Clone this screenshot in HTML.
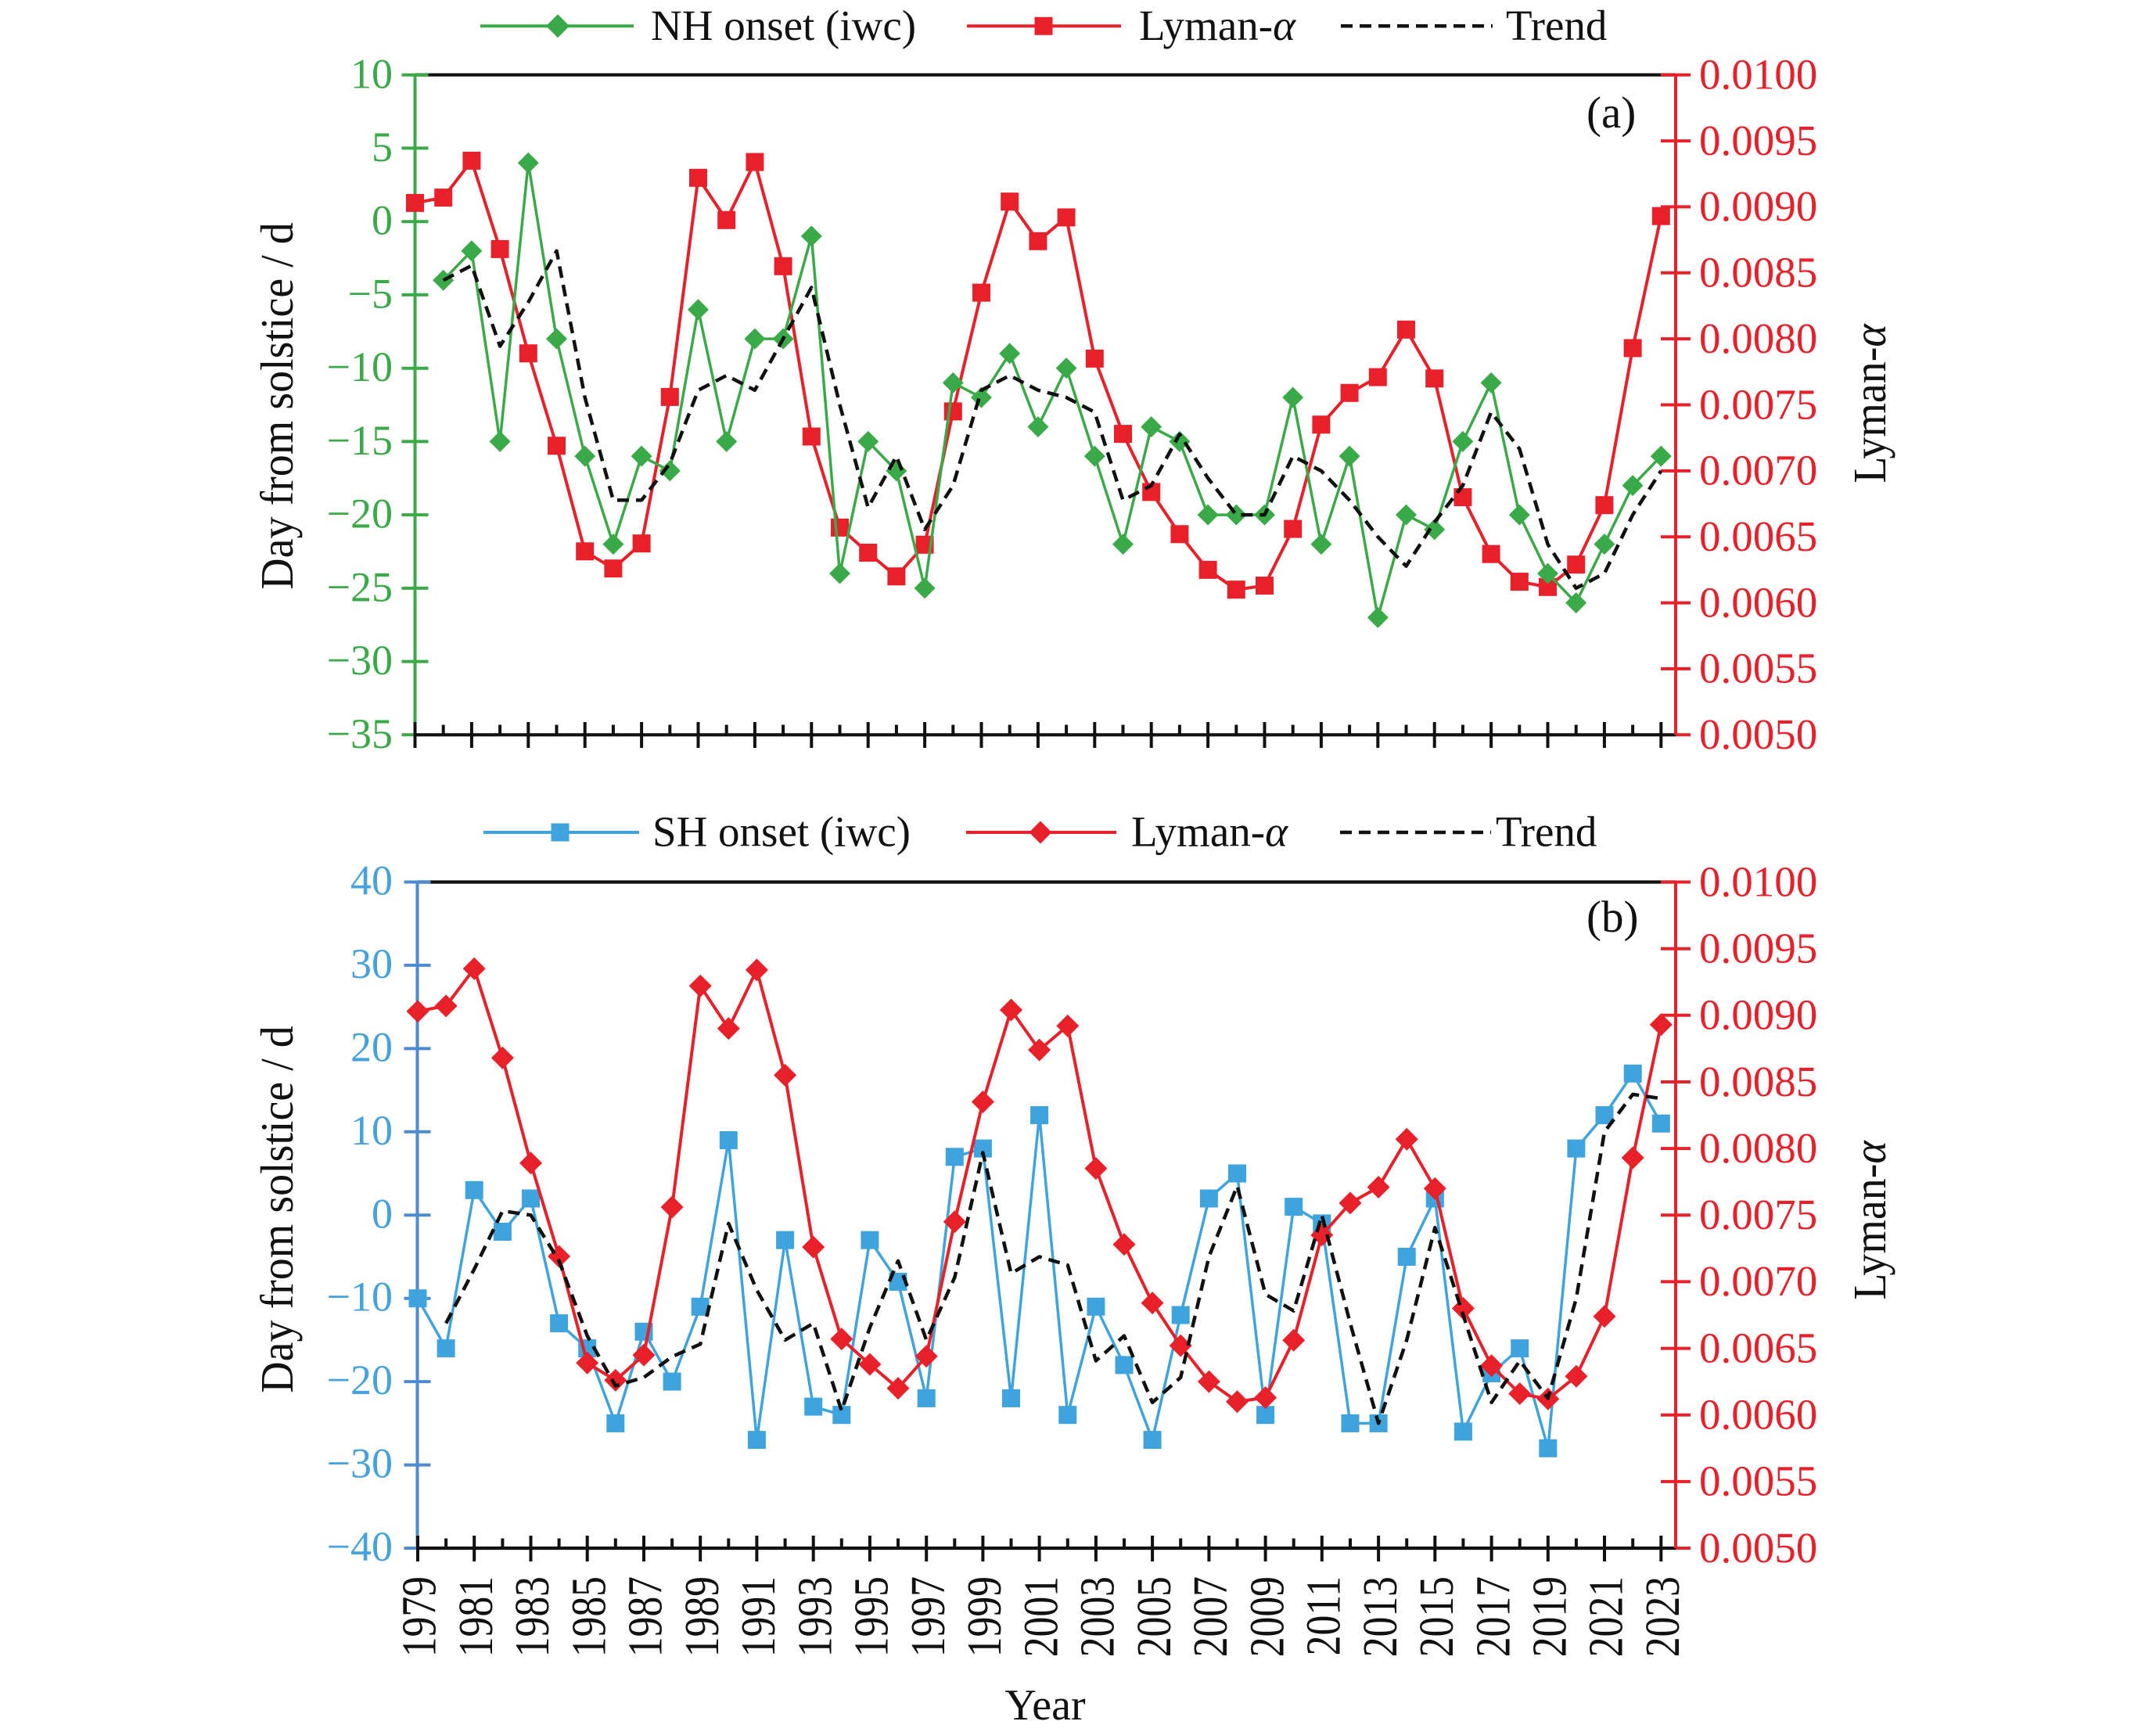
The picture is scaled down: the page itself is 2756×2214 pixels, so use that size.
<!DOCTYPE html>
<html>
<head>
<meta charset="utf-8">
<style>
html,body{margin:0;padding:0;background:#fff;}
svg{display:block;}
text{font-family:"Liberation Serif","Times New Roman",serif;}
</style>
</head>
<body>
<svg xmlns="http://www.w3.org/2000/svg" width="2756" height="2214" viewBox="0 0 2756 2214">
<defs>
  <path id="dg" d="M0,-13.5 L13.5,0 L0,13.5 L-13.5,0Z" fill="#3aaa48"/>
  <path id="dgL" d="M0,-15 L15,0 L0,15 L-15,0Z" fill="#3aaa48"/>
  <rect id="sqR" x="-11.5" y="-11.5" width="23" height="23" fill="#e8202a"/>
  <path id="dR" d="M0,-14.5 L14.5,0 L0,14.5 L-14.5,0Z" fill="#e8202a"/>
  <rect id="sqB" x="-11.5" y="-11.5" width="23" height="23" fill="#3fa3dd"/>
</defs>
<rect width="2756" height="2214" fill="#fff"/>

<!-- ================= PANEL A ================= -->
<!-- Legend A -->
<line x1="614" y1="33.3" x2="810" y2="33.3" stroke="#3aaa48" stroke-width="4"/>
<use href="#dgL" x="713" y="33.3"/>
<text x="832" y="51" font-size="55" fill="#111">NH onset (iwc)</text>
<line x1="1236" y1="33.3" x2="1433" y2="33.3" stroke="#e8202a" stroke-width="4"/>
<use href="#sqR" x="1334" y="33.3"/>
<text x="1456" y="51" font-size="55" fill="#111">Lyman-<tspan font-style="italic">α</tspan></text>
<line x1="1714" y1="33.3" x2="1908" y2="33.3" stroke="#111" stroke-width="4.5" stroke-dasharray="15 9"/>
<text x="1925" y="51" font-size="55" fill="#111">Trend</text>

<!-- frame A -->
<line x1="530.5" y1="95.7" x2="2142" y2="95.7" stroke="#111" stroke-width="4.2"/>
<line x1="530.5" y1="939.3" x2="2142" y2="939.3" stroke="#111" stroke-width="4.2"/>
<line x1="530.5" y1="95.7" x2="530.5" y2="939.3" stroke="#3aaa48" stroke-width="4"/>
<line x1="2142" y1="95.7" x2="2142" y2="939.3" stroke="#e8202a" stroke-width="4"/>
<!-- left ticks A -->
<path d="M513.5,95.7H547.5M513.5,189.4H547.5M513.5,283.2H547.5M513.5,376.9H547.5M513.5,470.7H547.5M513.5,564.4H547.5M513.5,658.1H547.5M513.5,751.9H547.5M513.5,845.6H547.5M513.5,939.3H530.5" stroke="#3aaa48" stroke-width="4"/>
<!-- right ticks A -->
<path d="M2123,95.7H2161M2123,180.1H2161M2123,264.4H2161M2123,348.8H2161M2123,433.1H2161M2123,517.5H2161M2123,601.9H2161M2123,686.2H2161M2123,770.6H2161M2123,854.9H2161M2142,939.3H2161" stroke="#e8202a" stroke-width="4"/>
<!-- bottom ticks A -->
<path d="M530.5,923V956M602.9,923V956M675.3,923V956M747.7,923V956M820.1,923V956M892.5,923V956M964.9,923V956M1037.3,923V956M1109.7,923V956M1182.1,923V956M1254.5,923V956M1326.9,923V956M1399.3,923V956M1471.7,923V956M1544.1,923V956M1616.5,923V956M1688.9,923V956M1761.3,923V956M1833.7,923V956M1906.1,923V956M1978.5,923V956M2050.9,923V956M2123.3,923V956" stroke="#111" stroke-width="4"/>
<path d="M566.7,926.5V939M639.1,926.5V939M711.5,926.5V939M783.9,926.5V939M856.3,926.5V939M928.7,926.5V939M1001.1,926.5V939M1073.5,926.5V939M1145.9,926.5V939M1218.3,926.5V939M1290.7,926.5V939M1363.1,926.5V939M1435.5,926.5V939M1507.9,926.5V939M1580.3,926.5V939M1652.7,926.5V939M1725.1,926.5V939M1797.5,926.5V939M1869.9,926.5V939M1942.3,926.5V939M2014.7,926.5V939M2087.1,926.5V939" stroke="#111" stroke-width="4"/>

<!-- left labels A -->
<g font-size="54" fill="#3aaa48" text-anchor="end">
<text x="502" y="112.5">10</text>
<text x="502" y="206">5</text>
<text x="502" y="299.7">0</text>
<text x="502" y="393.4">−5</text>
<text x="502" y="487.2">−10</text>
<text x="502" y="580.9">−15</text>
<text x="502" y="674.6">−20</text>
<text x="502" y="768.4">−25</text>
<text x="502" y="862.1">−30</text>
<text x="502" y="955.8">−35</text>
</g>
<!-- right labels A -->
<g font-size="55" fill="#e8202a">
<text x="2172" y="113.5">0.0100</text>
<text x="2172" y="197.9">0.0095</text>
<text x="2172" y="282.2">0.0090</text>
<text x="2172" y="366.6">0.0085</text>
<text x="2172" y="450.9">0.0080</text>
<text x="2172" y="535.3">0.0075</text>
<text x="2172" y="619.7">0.0070</text>
<text x="2172" y="704">0.0065</text>
<text x="2172" y="788.4">0.0060</text>
<text x="2172" y="872.7">0.0055</text>
<text x="2172" y="957.1">0.0050</text>
</g>
<text x="2028" y="163" font-size="57" fill="#111">(a)</text>
<text transform="translate(374,519) rotate(-90) scale(1,1.05)" text-anchor="middle" font-size="56" fill="#111">Day from solstice / d</text>
<text transform="translate(2410,516) rotate(-90) scale(1,1.05)" text-anchor="middle" font-size="56" fill="#111">Lyman-<tspan font-style="italic">α</tspan></text>

<!-- series A: Lyman -->
<polyline fill="none" stroke="#e8202a" stroke-width="4" stroke-linejoin="round" points="530.5,259.4 566.7,252.6 602.9,205.4 639.1,318.4 675.3,451.7 711.5,569.8 747.7,704.8 783.9,726.7 820.1,694.7 856.3,507.4 892.5,227.3 928.7,281.3 964.9,207.1 1001.1,340.3 1037.3,558.0 1073.5,674.4 1109.7,706.5 1145.9,736.8 1182.1,696.3 1218.3,525.9 1254.5,374.1 1290.7,257.7 1326.9,308.3 1363.1,277.9 1399.3,458.4 1435.5,554.6 1471.7,628.9 1507.9,682.8 1544.1,728.4 1580.3,753.7 1616.5,748.6 1652.7,676.1 1688.9,542.8 1725.1,502.3 1761.3,482.1 1797.5,421.3 1833.7,483.8 1869.9,635.6 1906.1,708.2 1942.3,743.6 1978.5,750.3 2014.7,721.7 2050.9,645.7 2087.1,445.0 2123.3,276.2"/>
<g>
<use href="#sqR" x="530.5" y="259.4"/><use href="#sqR" x="566.7" y="252.6"/><use href="#sqR" x="602.9" y="205.4"/><use href="#sqR" x="639.1" y="318.4"/><use href="#sqR" x="675.3" y="451.7"/><use href="#sqR" x="711.5" y="569.8"/><use href="#sqR" x="747.7" y="704.8"/><use href="#sqR" x="783.9" y="726.7"/><use href="#sqR" x="820.1" y="694.7"/><use href="#sqR" x="856.3" y="507.4"/><use href="#sqR" x="892.5" y="227.3"/><use href="#sqR" x="928.7" y="281.3"/><use href="#sqR" x="964.9" y="207.1"/><use href="#sqR" x="1001.1" y="340.3"/><use href="#sqR" x="1037.3" y="558.0"/><use href="#sqR" x="1073.5" y="674.4"/><use href="#sqR" x="1109.7" y="706.5"/><use href="#sqR" x="1145.9" y="736.8"/><use href="#sqR" x="1182.1" y="696.3"/><use href="#sqR" x="1218.3" y="525.9"/><use href="#sqR" x="1254.5" y="374.1"/><use href="#sqR" x="1290.7" y="257.7"/><use href="#sqR" x="1326.9" y="308.3"/><use href="#sqR" x="1363.1" y="277.9"/><use href="#sqR" x="1399.3" y="458.4"/><use href="#sqR" x="1435.5" y="554.6"/><use href="#sqR" x="1471.7" y="628.9"/><use href="#sqR" x="1507.9" y="682.8"/><use href="#sqR" x="1544.1" y="728.4"/><use href="#sqR" x="1580.3" y="753.7"/><use href="#sqR" x="1616.5" y="748.6"/><use href="#sqR" x="1652.7" y="676.1"/><use href="#sqR" x="1688.9" y="542.8"/><use href="#sqR" x="1725.1" y="502.3"/><use href="#sqR" x="1761.3" y="482.1"/><use href="#sqR" x="1797.5" y="421.3"/><use href="#sqR" x="1833.7" y="483.8"/><use href="#sqR" x="1869.9" y="635.6"/><use href="#sqR" x="1906.1" y="708.2"/><use href="#sqR" x="1942.3" y="743.6"/><use href="#sqR" x="1978.5" y="750.3"/><use href="#sqR" x="2014.7" y="721.7"/><use href="#sqR" x="2050.9" y="645.7"/><use href="#sqR" x="2087.1" y="445.0"/><use href="#sqR" x="2123.3" y="276.2"/>
</g>

<!-- series A: NH onset -->
<polyline fill="none" stroke="#3aaa48" stroke-width="3.5" stroke-linejoin="round" points="566.7,358.2 602.9,320.7 639.1,564.4 675.3,208.2 711.5,433.1 747.7,583.1 783.9,695.6 820.1,583.1 856.3,601.9 892.5,395.7 928.7,564.4 964.9,433.1 1001.1,433.1 1037.3,301.9 1073.5,733.1 1109.7,564.4 1145.9,601.9 1182.1,751.9 1218.3,489.4 1254.5,508.1 1290.7,451.9 1326.9,545.6 1363.1,470.6 1399.3,583.1 1435.5,695.6 1471.7,545.6 1507.9,564.4 1544.1,658.1 1580.3,658.1 1616.5,658.1 1652.7,508.1 1688.9,695.6 1725.1,583.1 1761.3,789.4 1797.5,658.1 1833.7,676.9 1869.9,564.4 1906.1,489.4 1942.3,658.1 1978.5,733.1 2014.7,770.6 2050.9,695.6 2087.1,620.6 2123.3,583.1"/>
<g>
<use href="#dg" x="566.7" y="358.2"/><use href="#dg" x="602.9" y="320.7"/><use href="#dg" x="639.1" y="564.4"/><use href="#dg" x="675.3" y="208.2"/><use href="#dg" x="711.5" y="433.1"/><use href="#dg" x="747.7" y="583.1"/><use href="#dg" x="783.9" y="695.6"/><use href="#dg" x="820.1" y="583.1"/><use href="#dg" x="856.3" y="601.9"/><use href="#dg" x="892.5" y="395.7"/><use href="#dg" x="928.7" y="564.4"/><use href="#dg" x="964.9" y="433.1"/><use href="#dg" x="1001.1" y="433.1"/><use href="#dg" x="1037.3" y="301.9"/><use href="#dg" x="1073.5" y="733.1"/><use href="#dg" x="1109.7" y="564.4"/><use href="#dg" x="1145.9" y="601.9"/><use href="#dg" x="1182.1" y="751.9"/><use href="#dg" x="1218.3" y="489.4"/><use href="#dg" x="1254.5" y="508.1"/><use href="#dg" x="1290.7" y="451.9"/><use href="#dg" x="1326.9" y="545.6"/><use href="#dg" x="1363.1" y="470.6"/><use href="#dg" x="1399.3" y="583.1"/><use href="#dg" x="1435.5" y="695.6"/><use href="#dg" x="1471.7" y="545.6"/><use href="#dg" x="1507.9" y="564.4"/><use href="#dg" x="1544.1" y="658.1"/><use href="#dg" x="1580.3" y="658.1"/><use href="#dg" x="1616.5" y="658.1"/><use href="#dg" x="1652.7" y="508.1"/><use href="#dg" x="1688.9" y="695.6"/><use href="#dg" x="1725.1" y="583.1"/><use href="#dg" x="1761.3" y="789.4"/><use href="#dg" x="1797.5" y="658.1"/><use href="#dg" x="1833.7" y="676.9"/><use href="#dg" x="1869.9" y="564.4"/><use href="#dg" x="1906.1" y="489.4"/><use href="#dg" x="1942.3" y="658.1"/><use href="#dg" x="1978.5" y="733.1"/><use href="#dg" x="2014.7" y="770.6"/><use href="#dg" x="2050.9" y="695.6"/><use href="#dg" x="2087.1" y="620.6"/><use href="#dg" x="2123.3" y="583.1"/>
</g>

<!-- trend A -->
<polyline fill="none" stroke="#111" stroke-width="4.5" stroke-dasharray="15 9" stroke-linejoin="round" points="566.7,358.2 602.9,339.4 639.1,442.5 675.3,386.3 711.5,320.7 747.7,508.1 783.9,639.4 820.1,639.4 856.3,592.5 892.5,498.8 928.7,480.0 964.9,498.8 1001.1,433.1 1037.3,367.5 1073.5,517.5 1109.7,648.7 1145.9,583.1 1182.1,676.9 1218.3,620.6 1254.5,498.8 1290.7,480.0 1326.9,498.8 1363.1,508.1 1399.3,526.9 1435.5,639.4 1471.7,620.6 1507.9,555.0 1544.1,611.2 1580.3,658.1 1616.5,658.1 1652.7,583.1 1688.9,601.9 1725.1,639.4 1761.3,686.2 1797.5,723.7 1833.7,667.5 1869.9,620.6 1906.1,526.9 1942.3,573.7 1978.5,695.6 2014.7,751.9 2050.9,733.1 2087.1,658.1 2123.3,601.9"/>

<!-- ================= PANEL B ================= -->
<!-- Legend B -->
<line x1="618" y1="1064" x2="817" y2="1064" stroke="#3fa3dd" stroke-width="4"/>
<use href="#sqB" x="716" y="1064"/>
<text x="834" y="1081.5" font-size="55" fill="#111">SH onset (iwc)</text>
<line x1="1235" y1="1064" x2="1427" y2="1064" stroke="#e8202a" stroke-width="4"/>
<use href="#dR" x="1330" y="1064"/>
<text x="1446" y="1081.5" font-size="55" fill="#111">Lyman-<tspan font-style="italic">α</tspan></text>
<line x1="1713" y1="1064" x2="1906" y2="1064" stroke="#111" stroke-width="4.5" stroke-dasharray="15 9"/>
<text x="1912" y="1081.5" font-size="55" fill="#111">Trend</text>

<!-- frame B -->
<line x1="533.5" y1="1127.5" x2="2142" y2="1127.5" stroke="#111" stroke-width="4.2"/>
<line x1="533.5" y1="1979" x2="2142" y2="1979" stroke="#111" stroke-width="4.2"/>
<line x1="533.5" y1="1127.5" x2="533.5" y2="1979" stroke="#4e8ad0" stroke-width="4"/>
<line x1="2142" y1="1127.5" x2="2142" y2="1979" stroke="#e8202a" stroke-width="4"/>
<path d="M516.5,1127.5H550.5M516.5,1233.9H550.5M516.5,1340.4H550.5M516.5,1446.8H550.5M516.5,1553.3H550.5M516.5,1659.7H550.5M516.5,1766.1H550.5M516.5,1872.6H550.5M516.5,1979H533.5" stroke="#4e8ad0" stroke-width="4"/>
<path d="M2123,1127.5H2161M2123,1212.7H2161M2123,1297.8H2161M2123,1383H2161M2123,1468.1H2161M2123,1553.3H2161M2123,1638.4H2161M2123,1723.6H2161M2123,1808.7H2161M2123,1893.9H2161M2142,1979H2161" stroke="#e8202a" stroke-width="4"/>
<path d="M534,1963V1996M606.2,1963V1996M678.5,1963V1996M750.7,1963V1996M823,1963V1996M895.2,1963V1996M967.4,1963V1996M1039.7,1963V1996M1111.9,1963V1996M1184.2,1963V1996M1256.4,1963V1996M1328.6,1963V1996M1400.9,1963V1996M1473.1,1963V1996M1545.4,1963V1996M1617.6,1963V1996M1689.8,1963V1996M1762.1,1963V1996M1834.3,1963V1996M1906.6,1963V1996M1978.8,1963V1996M2051,1963V1996M2123.3,1963V1996" stroke="#111" stroke-width="4"/>
<path d="M570.1,1966.5V1979M642.4,1966.5V1979M714.6,1966.5V1979M786.8,1966.5V1979M859.1,1966.5V1979M931.3,1966.5V1979M1003.6,1966.5V1979M1075.8,1966.5V1979M1148,1966.5V1979M1220.3,1966.5V1979M1292.5,1966.5V1979M1364.8,1966.5V1979M1437,1966.5V1979M1509.2,1966.5V1979M1581.5,1966.5V1979M1653.7,1966.5V1979M1726,1966.5V1979M1798.2,1966.5V1979M1870.4,1966.5V1979M1942.7,1966.5V1979M2014.9,1966.5V1979M2087.2,1966.5V1979" stroke="#111" stroke-width="4"/>

<g font-size="54" fill="#45a2dc" text-anchor="end">
<text x="502" y="1143.5">40</text>
<text x="502" y="1249.9">30</text>
<text x="502" y="1356.4">20</text>
<text x="502" y="1462.8">10</text>
<text x="502" y="1569.3">0</text>
<text x="502" y="1675.7">−10</text>
<text x="502" y="1782.1">−20</text>
<text x="502" y="1888.6">−30</text>
<text x="502" y="1995">−40</text>
</g>
<g font-size="55" fill="#e8202a">
<text x="2172" y="1145.3">0.0100</text>
<text x="2172" y="1230.5">0.0095</text>
<text x="2172" y="1315.6">0.0090</text>
<text x="2172" y="1400.8">0.0085</text>
<text x="2172" y="1485.9">0.0080</text>
<text x="2172" y="1571.1">0.0075</text>
<text x="2172" y="1656.2">0.0070</text>
<text x="2172" y="1741.4">0.0065</text>
<text x="2172" y="1826.5">0.0060</text>
<text x="2172" y="1911.7">0.0055</text>
<text x="2172" y="1996.8">0.0050</text>
</g>
<text x="2028" y="1191" font-size="57" fill="#111">(b)</text>
<text transform="translate(374,1546) rotate(-90) scale(1,1.05)" text-anchor="middle" font-size="56" fill="#111">Day from solstice / d</text>
<text transform="translate(2410,1560) rotate(-90) scale(1,1.05)" text-anchor="middle" font-size="56" fill="#111">Lyman-<tspan font-style="italic">α</tspan></text>

<!-- year labels -->
<g font-size="62" fill="#111" text-anchor="end">
<text transform="translate(556.7,2015) rotate(-90) scale(0.833,1)">1979</text>
<text transform="translate(628.9,2015) rotate(-90) scale(0.833,1)">1981</text>
<text transform="translate(701.2,2015) rotate(-90) scale(0.833,1)">1983</text>
<text transform="translate(773.4,2015) rotate(-90) scale(0.833,1)">1985</text>
<text transform="translate(845.7,2015) rotate(-90) scale(0.833,1)">1987</text>
<text transform="translate(917.9,2015) rotate(-90) scale(0.833,1)">1989</text>
<text transform="translate(990.1,2015) rotate(-90) scale(0.833,1)">1991</text>
<text transform="translate(1062.4,2015) rotate(-90) scale(0.833,1)">1993</text>
<text transform="translate(1134.6,2015) rotate(-90) scale(0.833,1)">1995</text>
<text transform="translate(1206.9,2015) rotate(-90) scale(0.833,1)">1997</text>
<text transform="translate(1279.1,2015) rotate(-90) scale(0.833,1)">1999</text>
<text transform="translate(1351.3,2015) rotate(-90) scale(0.833,1)">2001</text>
<text transform="translate(1423.6,2015) rotate(-90) scale(0.833,1)">2003</text>
<text transform="translate(1495.8,2015) rotate(-90) scale(0.833,1)">2005</text>
<text transform="translate(1568.1,2015) rotate(-90) scale(0.833,1)">2007</text>
<text transform="translate(1640.3,2015) rotate(-90) scale(0.833,1)">2009</text>
<text transform="translate(1712.5,2015) rotate(-90) scale(0.833,1)">2011</text>
<text transform="translate(1784.8,2015) rotate(-90) scale(0.833,1)">2013</text>
<text transform="translate(1857,2015) rotate(-90) scale(0.833,1)">2015</text>
<text transform="translate(1929.3,2015) rotate(-90) scale(0.833,1)">2017</text>
<text transform="translate(2001.5,2015) rotate(-90) scale(0.833,1)">2019</text>
<text transform="translate(2073.7,2015) rotate(-90) scale(0.833,1)">2021</text>
<text transform="translate(2146,2015) rotate(-90) scale(0.833,1)">2023</text>
</g>
<text x="1336" y="2198" font-size="56" fill="#111" text-anchor="middle">Year</text>

<!-- series B: SH onset -->
<polyline fill="none" stroke="#3fa3dd" stroke-width="3.5" stroke-linejoin="round" points="534,1659.7 570.1,1723.6 606.2,1521.3 642.4,1574.5 678.5,1532.0 714.6,1691.6 750.7,1723.6 786.8,1819.4 823.0,1702.3 859.1,1766.1 895.2,1670.3 931.3,1457.5 967.4,1840.6 1003.6,1585.2 1039.7,1798.1 1075.8,1808.7 1111.9,1585.2 1148.0,1638.4 1184.2,1787.4 1220.3,1478.8 1256.4,1468.1 1292.5,1787.4 1328.6,1425.5 1364.8,1808.7 1400.9,1670.3 1437.0,1744.9 1473.1,1840.6 1509.2,1681.0 1545.4,1532.0 1581.5,1500.0 1617.6,1808.7 1653.7,1542.6 1689.8,1563.9 1726.0,1819.4 1762.1,1819.4 1798.2,1606.5 1834.3,1532.0 1870.4,1830.0 1906.6,1755.5 1942.7,1723.6 1978.8,1851.3 2014.9,1468.1 2051.0,1425.5 2087.2,1372.3 2123.3,1436.2"/>
<g>
<use href="#sqB" x="534" y="1659.7"/><use href="#sqB" x="570.1" y="1723.6"/><use href="#sqB" x="606.2" y="1521.3"/><use href="#sqB" x="642.4" y="1574.5"/><use href="#sqB" x="678.5" y="1532.0"/><use href="#sqB" x="714.6" y="1691.6"/><use href="#sqB" x="750.7" y="1723.6"/><use href="#sqB" x="786.8" y="1819.4"/><use href="#sqB" x="823.0" y="1702.3"/><use href="#sqB" x="859.1" y="1766.1"/><use href="#sqB" x="895.2" y="1670.3"/><use href="#sqB" x="931.3" y="1457.5"/><use href="#sqB" x="967.4" y="1840.6"/><use href="#sqB" x="1003.6" y="1585.2"/><use href="#sqB" x="1039.7" y="1798.1"/><use href="#sqB" x="1075.8" y="1808.7"/><use href="#sqB" x="1111.9" y="1585.2"/><use href="#sqB" x="1148.0" y="1638.4"/><use href="#sqB" x="1184.2" y="1787.4"/><use href="#sqB" x="1220.3" y="1478.8"/><use href="#sqB" x="1256.4" y="1468.1"/><use href="#sqB" x="1292.5" y="1787.4"/><use href="#sqB" x="1328.6" y="1425.5"/><use href="#sqB" x="1364.8" y="1808.7"/><use href="#sqB" x="1400.9" y="1670.3"/><use href="#sqB" x="1437.0" y="1744.9"/><use href="#sqB" x="1473.1" y="1840.6"/><use href="#sqB" x="1509.2" y="1681.0"/><use href="#sqB" x="1545.4" y="1532.0"/><use href="#sqB" x="1581.5" y="1500.0"/><use href="#sqB" x="1617.6" y="1808.7"/><use href="#sqB" x="1653.7" y="1542.6"/><use href="#sqB" x="1689.8" y="1563.9"/><use href="#sqB" x="1726.0" y="1819.4"/><use href="#sqB" x="1762.1" y="1819.4"/><use href="#sqB" x="1798.2" y="1606.5"/><use href="#sqB" x="1834.3" y="1532.0"/><use href="#sqB" x="1870.4" y="1830.0"/><use href="#sqB" x="1906.6" y="1755.5"/><use href="#sqB" x="1942.7" y="1723.6"/><use href="#sqB" x="1978.8" y="1851.3"/><use href="#sqB" x="2014.9" y="1468.1"/><use href="#sqB" x="2051.0" y="1425.5"/><use href="#sqB" x="2087.2" y="1372.3"/><use href="#sqB" x="2123.3" y="1436.2"/>
</g>

<!-- series B: Lyman -->
<polyline fill="none" stroke="#e8202a" stroke-width="4" stroke-linejoin="round" points="534,1292.7 570.1,1285.9 606.2,1238.2 642.4,1352.3 678.5,1486.8 714.6,1606.0 750.7,1742.3 786.8,1764.4 823.0,1732.1 859.1,1543.0 895.2,1260.3 931.3,1314.8 967.4,1239.9 1003.6,1374.4 1039.7,1594.1 1075.8,1711.6 1111.9,1744.0 1148.0,1774.6 1184.2,1733.8 1220.3,1561.8 1256.4,1408.5 1292.5,1291.0 1328.6,1342.1 1364.8,1311.4 1400.9,1493.6 1437.0,1590.7 1473.1,1665.6 1509.2,1720.1 1545.4,1766.1 1581.5,1791.7 1617.6,1786.6 1653.7,1713.3 1689.8,1578.8 1726.0,1537.9 1762.1,1517.5 1798.2,1456.2 1834.3,1519.2 1870.4,1672.5 1906.6,1745.7 1942.7,1781.5 1978.8,1788.3 2014.9,1759.3 2051.0,1682.7 2087.2,1480.0 2123.3,1309.7"/>
<g>
<use href="#dR" x="534" y="1292.7"/><use href="#dR" x="570.1" y="1285.9"/><use href="#dR" x="606.2" y="1238.2"/><use href="#dR" x="642.4" y="1352.3"/><use href="#dR" x="678.5" y="1486.8"/><use href="#dR" x="714.6" y="1606.0"/><use href="#dR" x="750.7" y="1742.3"/><use href="#dR" x="786.8" y="1764.4"/><use href="#dR" x="823.0" y="1732.1"/><use href="#dR" x="859.1" y="1543.0"/><use href="#dR" x="895.2" y="1260.3"/><use href="#dR" x="931.3" y="1314.8"/><use href="#dR" x="967.4" y="1239.9"/><use href="#dR" x="1003.6" y="1374.4"/><use href="#dR" x="1039.7" y="1594.1"/><use href="#dR" x="1075.8" y="1711.6"/><use href="#dR" x="1111.9" y="1744.0"/><use href="#dR" x="1148.0" y="1774.6"/><use href="#dR" x="1184.2" y="1733.8"/><use href="#dR" x="1220.3" y="1561.8"/><use href="#dR" x="1256.4" y="1408.5"/><use href="#dR" x="1292.5" y="1291.0"/><use href="#dR" x="1328.6" y="1342.1"/><use href="#dR" x="1364.8" y="1311.4"/><use href="#dR" x="1400.9" y="1493.6"/><use href="#dR" x="1437.0" y="1590.7"/><use href="#dR" x="1473.1" y="1665.6"/><use href="#dR" x="1509.2" y="1720.1"/><use href="#dR" x="1545.4" y="1766.1"/><use href="#dR" x="1581.5" y="1791.7"/><use href="#dR" x="1617.6" y="1786.6"/><use href="#dR" x="1653.7" y="1713.3"/><use href="#dR" x="1689.8" y="1578.8"/><use href="#dR" x="1726.0" y="1537.9"/><use href="#dR" x="1762.1" y="1517.5"/><use href="#dR" x="1798.2" y="1456.2"/><use href="#dR" x="1834.3" y="1519.2"/><use href="#dR" x="1870.4" y="1672.5"/><use href="#dR" x="1906.6" y="1745.7"/><use href="#dR" x="1942.7" y="1781.5"/><use href="#dR" x="1978.8" y="1788.3"/><use href="#dR" x="2014.9" y="1759.3"/><use href="#dR" x="2051.0" y="1682.7"/><use href="#dR" x="2087.2" y="1480.0"/><use href="#dR" x="2123.3" y="1309.7"/>
</g>

<!-- trend B -->
<polyline fill="none" stroke="#111" stroke-width="4.5" stroke-dasharray="15 9" stroke-linejoin="round" points="570.1,1691.6 606.2,1622.4 642.4,1547.9 678.5,1553.3 714.6,1611.8 750.7,1707.6 786.8,1771.5 823.0,1760.8 859.1,1734.2 895.2,1718.2 931.3,1563.9 967.4,1649.1 1003.6,1712.9 1039.7,1691.6 1075.8,1803.4 1111.9,1697.0 1148.0,1611.8 1184.2,1712.9 1220.3,1633.1 1256.4,1473.4 1292.5,1627.8 1328.6,1606.5 1364.8,1617.1 1400.9,1739.5 1437.0,1707.6 1473.1,1792.8 1509.2,1760.8 1545.4,1606.5 1581.5,1516.0 1617.6,1654.4 1653.7,1675.7 1689.8,1553.3 1726.0,1691.6 1762.1,1819.4 1798.2,1712.9 1834.3,1569.2 1870.4,1681.0 1906.6,1792.8 1942.7,1739.5 1978.8,1787.4 2014.9,1659.7 2051.0,1446.8 2087.2,1398.9 2123.3,1404.2"/>
</svg>
</body>
</html>
